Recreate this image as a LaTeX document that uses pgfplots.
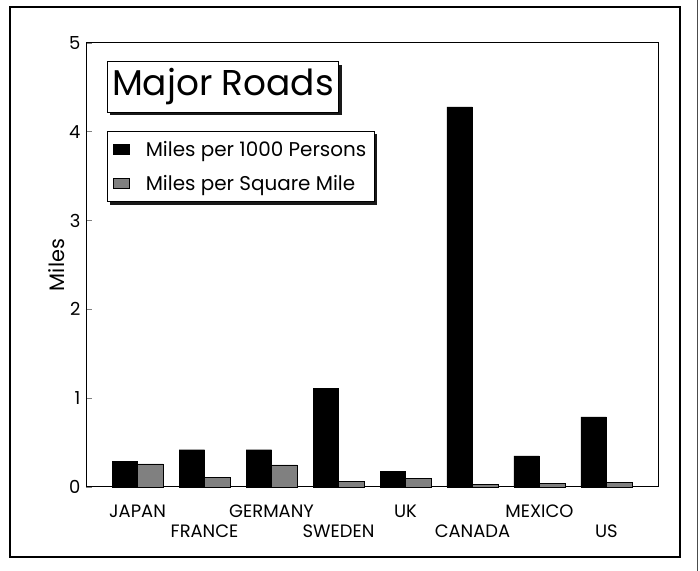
\documentclass[border=0pt]{standalone}
\usepackage{fontspec}
\setmainfont{Poppins}
\usepackage{pgfplots}
\pgfplotsset{compat=1.18}
\usetikzlibrary{shadows}
\makeatletter
\tikzset{nopre/.code={\let\tikz@preactions\pgfutil@empty}}
\makeatother
\begin{document}
\begin{tikzpicture}[x=1bp,y=1bp]
\useasboundingbox (0,0) rectangle (700,571);
\draw[line width=1.2bp] (10,14) rectangle (680,564);
\draw[line width=1bp, black!70] (697,0) -- (697,571);
\begin{axis}[
  at={(86bp,84bp)}, anchor=south west,
  scale only axis, width=572bp, height=444bp,
  xmin=-0.77, xmax=7.77, ymin=0, ymax=5,
  ybar=0pt, bar width=25.5bp,
  axis line style={line width=1bp},
  xtick={0,...,7},
  xticklabels={JAPAN,{\vphantom{A}\\FRANCE},GERMANY,{\vphantom{A}\\SWEDEN},UK,{\vphantom{A}\\CANADA},MEXICO,{\vphantom{A}\\US}},
  xtick style={draw=none},
  xticklabel style={font=\fontsize{18}{21}\selectfont, align=center, anchor=north, yshift=-8bp},
  ytick={0,1,2,3,4,5},
  ytick pos=left, ytick align=inside, major tick length=6bp,
  ytick style={line width=0.8bp},
  yticklabel style={font=\fontsize{18}{20}\selectfont, xshift=-2bp},
  /pgf/number format/assume math mode=true,
  ylabel={Miles},
  ylabel style={font=\fontsize{21}{23}\selectfont, yshift=-2bp},
  legend style={at={(0.036,0.802)}, anchor=north west, draw=black, line width=1bp,
    drop shadow={shadow xshift=3bp, shadow yshift=-3bp, fill=black, opacity=0.9},
    fill=white,
    font=\fontsize{20}{22}\selectfont, inner xsep=6bp, inner ysep=8bp,
    row sep=13bp, cells={anchor=west}},
  legend image code/.code={\draw[nopre, #1, line width=0.5bp] (0bp,-5bp) rectangle (16bp,5bp); \path[nopre] (30bp,0bp);},
  clip=false,
]
\addplot[fill=black, draw=black] coordinates {(0,0.29) (1,0.42) (2,0.42) (3,1.11) (4,0.18) (5,4.28) (6,0.35) (7,0.79)};
\addplot[fill=black!50, draw=black] coordinates {(0,0.26) (1,0.11) (2,0.25) (3,0.06) (4,0.10) (5,0.03) (6,0.04) (7,0.05)};
\legend{Miles per 1000 Persons, Miles per Square Mile}
\node[draw=black, line width=1bp, fill=white, anchor=north west,
  drop shadow={shadow xshift=3bp, shadow yshift=-3bp, fill=black, opacity=0.9},
  font=\fontsize{36}{40}\selectfont, inner xsep=5bp, inner ysep=7bp]
  at (rel axis cs:0.036,0.959) {Major Roads};
\end{axis}
\end{tikzpicture}
\end{document}
